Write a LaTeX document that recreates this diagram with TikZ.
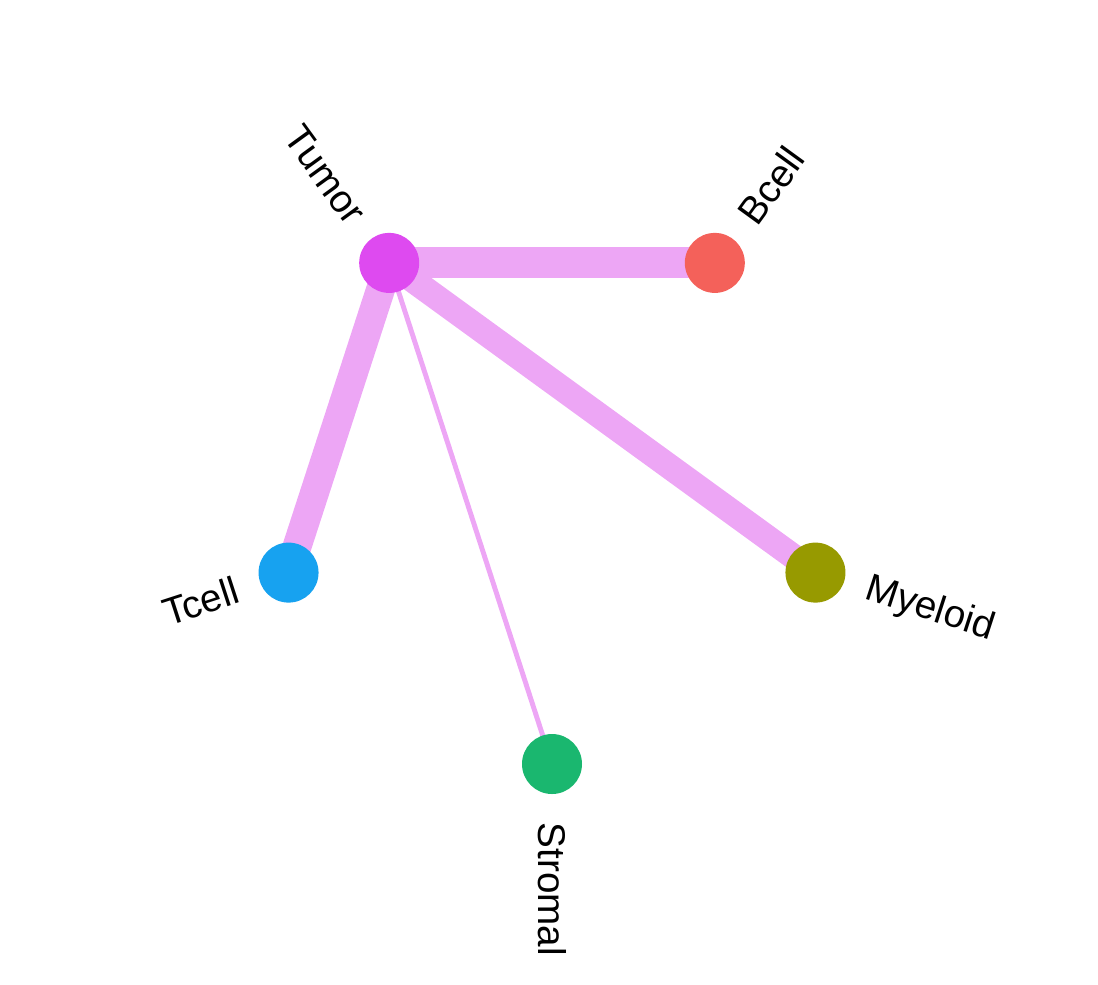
\documentclass[tikz,border=0pt]{standalone}
\usepackage{fontspec}
\setmainfont{Liberation Sans}
\usetikzlibrary{backgrounds}
\definecolor{tumorcol}{HTML}{DE4AF0}
\definecolor{bcellcol}{HTML}{F4615A}
\definecolor{tcellcol}{HTML}{17A2F0}
\definecolor{stromalcol}{HTML}{1AB76F}
\definecolor{myeloidcol}{HTML}{979A00}
\definecolor{linkcol}{HTML}{EDA6F5}
\begin{document}
\begin{tikzpicture}[
  cellvertex/.style={circle,minimum size=6mm,inner sep=0pt},
  celllabel/.style={inner sep=0pt,font=\fontsize{11}{13}\selectfont},
  celllink/.style={draw=linkcol}]
  \useasboundingbox (-5.52,-4.97) rectangle (5.46,4.87);
  % vertices on the circle
  \node[cellvertex,fill=bcellcol] (bcell) at (54:2.77) {};
  \node[cellvertex,fill=tumorcol] (tumor) at (126:2.77) {};
  \node[cellvertex,fill=tcellcol] (tcell) at (198:2.77) {};
  \node[cellvertex,fill=stromalcol] (stromal) at (270:2.77) {};
  \node[cellvertex,fill=myeloidcol] (myeloid) at (342:2.77) {};
  % links
  \begin{scope}[on background layer]
    \draw[celllink,line width=8.8pt] (tumor.center)--(bcell.center);
    \draw[celllink,line width=8.2pt] (tumor.center)--(tcell.center);
    \draw[celllink,line width=7.2pt] (tumor.center)--(myeloid.center);
    \draw[celllink,line width=1.4pt] (tumor.center)--(stromal.center);
  \end{scope}
  % labels
  \node[celllabel,anchor=west,rotate=54] (bcelltxt) at (54:3.3) {Bcell};
  \node[celllabel,anchor=east,rotate=-54] (tumortxt) at (126:3.3) {Tumor};
  \node[celllabel,anchor=east,rotate=18] (tcelltxt) at (198:3.3) {Tcell};
  \node[celllabel,anchor=west,rotate=-90] (stromaltxt) at (270:3.35) {Stromal};
  \node[celllabel,anchor=west,rotate=-18] (myeloidtxt) at (342:3.3) {Myeloid};
\end{tikzpicture}
\end{document}
